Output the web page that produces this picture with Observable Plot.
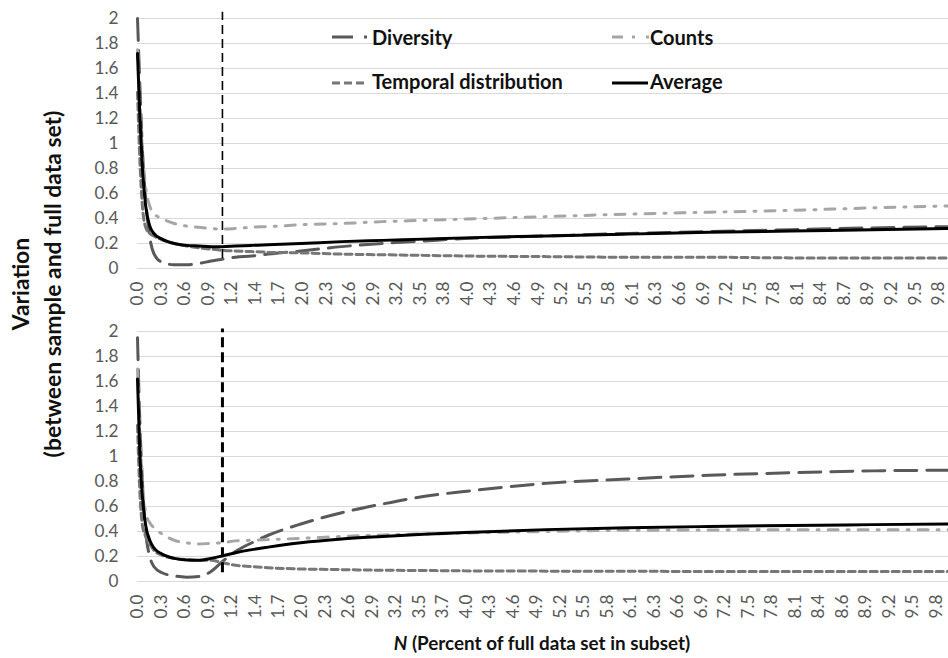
<!DOCTYPE html>
<html><head><meta charset="utf-8">
<script src="https://cdn.jsdelivr.net/npm/d3@7"></script>
<script src="https://cdn.jsdelivr.net/npm/@observablehq/plot@0.6"></script>
<style>
body{margin:0;background:#fff;}
#wrap{position:relative;width:948px;height:658px;overflow:hidden;font-family:Lato,sans-serif;background:#fff;}
#wrap svg.plot{display:block;}
#ytitle{position:absolute;font-weight:bold;color:#111;text-align:center;white-space:nowrap;line-height:32px;transform-origin:center center;}
#xtitle{position:absolute;font-weight:bold;color:#111;white-space:nowrap;}
#legend{position:absolute;left:0;top:0;}
</style></head><body><div id="wrap"></div>
<script>
// ---- data ----
const xPercent = [0,0.03,0.06,0.1,0.15,0.2,0.3,0.45,0.6,0.75,0.9,1.04,1.2,1.4,1.6,2.0,2.5,3.0,3.5,4.0,5.0,6.0,7.0,8.0,9.0,9.93];

const topDiversity = [2.0,1.45,0.95,0.55,0.25,0.12,0.05,0.03,0.03,0.04,0.06,0.075,0.09,0.10,0.115,0.14,0.175,0.2,0.22,0.24,0.26,0.28,0.295,0.31,0.325,0.335];
const topCounts    = [1.75,1.3,0.95,0.65,0.5,0.44,0.40,0.36,0.34,0.33,0.32,0.315,0.32,0.33,0.335,0.35,0.36,0.375,0.385,0.395,0.415,0.435,0.45,0.465,0.485,0.50];
const topTemporal  = [1.41,0.85,0.5,0.33,0.28,0.26,0.23,0.2,0.18,0.165,0.155,0.145,0.14,0.135,0.13,0.125,0.115,0.11,0.105,0.10,0.095,0.09,0.09,0.085,0.085,0.085];
const topAverage   = [1.72,1.2,0.8,0.5,0.34,0.28,0.235,0.2,0.185,0.18,0.175,0.175,0.18,0.185,0.19,0.2,0.215,0.225,0.235,0.245,0.26,0.275,0.29,0.30,0.31,0.32];

const bottomDiversity = [1.95,1.25,0.8,0.4,0.2,0.12,0.07,0.045,0.035,0.04,0.08,0.16,0.24,0.31,0.37,0.46,0.55,0.62,0.68,0.72,0.785,0.82,0.85,0.87,0.885,0.89];
const bottomCounts    = [1.7,1.15,0.8,0.55,0.47,0.43,0.38,0.33,0.31,0.30,0.305,0.31,0.325,0.33,0.335,0.345,0.36,0.372,0.38,0.388,0.40,0.41,0.412,0.415,0.415,0.415];
const bottomTemporal  = [1.25,0.7,0.45,0.36,0.3,0.25,0.21,0.185,0.175,0.17,0.17,0.15,0.13,0.12,0.11,0.10,0.095,0.09,0.088,0.085,0.083,0.082,0.08,0.08,0.08,0.08];
const bottomAverage   = [1.62,1.0,0.68,0.45,0.33,0.27,0.22,0.185,0.172,0.17,0.185,0.205,0.23,0.255,0.275,0.31,0.34,0.36,0.378,0.392,0.415,0.43,0.44,0.448,0.455,0.46];

const topTickLabels = ["0.0","0.3","0.6","0.9","1.2","1.4","1.7","2.0","2.3","2.6","2.9","3.2","3.5","3.8","4.0","4.3","4.6","4.9","5.2","5.5","5.8","6.1","6.3","6.6","6.9","7.2","7.5","7.8","8.1","8.4","8.7","8.9","9.2","9.5","9.8"];
const bottomTickLabels = ["0.0","0.3","0.6","0.9","1.2","1.4","1.7","2.0","2.3","2.6","2.9","3.2","3.5","3.7","4.0","4.3","4.6","4.9","5.2","5.5","5.8","6.1","6.3","6.6","6.9","7.2","7.5","7.8","8.1","8.4","8.6","8.9","9.2","9.5","9.8"];
const topTickStep = 0.2885, bottomTickStep = 0.2877; // percent between labelled categories
const yTicks = [0,0.2,0.4,0.6,0.8,1,1.2,1.4,1.6,1.8,2];
const xMax = 9.93;
const seriesNames = ["Diversity","Counts","Temporal distribution","Average"];
const markerX = 1.04;
const topMarker = {y1: 0.08, y2: 2.05};
const bottomMarker = {y1: 0.07, y2: 2.02};

// ---- styles ----
const seriesStyle = {
  "Diversity": {stroke:"#595959", dash:"22,10"},
  "Counts": {stroke:"#a6a6a6", dash:"10,9,2,9"},
  "Temporal distribution": {stroke:"#777777", dash:"7,4"},
  "Average": {stroke:"#000000", dash:null}
};

const ctx = document.createElement("canvas").getContext("2d");
function fitSize(text, target, weight) {
  ctx.font = `${weight} 100px Lato`;
  return 100 * target / ctx.measureText(text).width;
}
const tickFont = fitSize("1.8", 24, "normal");
const legendFont = fitSize("Temporal distribution", 191, "bold");
const yTitleFont = fitSize("(between sample and full data set)", 347, "bold");
const xTitleFont = fitSize("N (Percent of full data set in subset)", 298, "bold");

function panel({values, labels, step, height, marginTop, marginBottom, marker, markerWidth, markerDash}) {
  const rows = [];
  seriesNames.forEach((name, k) => xPercent.forEach((x, i) => rows.push({series: name, x, y: values[k][i]})));
  const tickVals = labels.map((_, i) => i * step);
  const tickMap = new Map(tickVals.map((v, i) => [v, labels[i]]));
  return Plot.plot({
    width: 948, height, marginLeft: 137, marginRight: 0, marginTop, marginBottom,
    x: {domain: [0, xMax]},
    y: {domain: [0, 2]},
    style: {fontFamily: "Lato, sans-serif", fontSize: tickFont + "px", color: "#595959", background: "transparent", overflow: "visible"},
    className: "plot",
    marks: [
      Plot.ruleY(yTicks, {stroke: "#d9d9d9", strokeWidth: 1}),
      Plot.axisY({ticks: yTicks, tickSize: 0, tickPadding: 19, label: null, tickFormat: d => String(+d.toFixed(1))}),
      Plot.axisX({ticks: tickVals, tickSize: 0, tickPadding: 13, tickRotate: -90, label: null, tickFormat: d => tickMap.get(d)}),
      ...seriesNames.map(name => Plot.line(rows.filter(r => r.series === name), {
        x: "x", y: "y", curve: "monotone-x",
        stroke: seriesStyle[name].stroke, strokeWidth: 3,
        strokeDasharray: seriesStyle[name].dash || undefined
      })),
      Plot.ruleX([markerX], {y1: marker.y1, y2: marker.y2, stroke: "#000", strokeWidth: markerWidth, strokeDasharray: markerDash})
    ]
  });
}

const wrap = document.getElementById("wrap");
wrap.appendChild(panel({
  values: [topDiversity, topCounts, topTemporal, topAverage], labels: topTickLabels, step: topTickStep,
  height: 320, marginTop: 18, marginBottom: 52, marker: topMarker, markerWidth: 1.6, markerDash: "9,5"
}));
wrap.appendChild(panel({
  values: [bottomDiversity, bottomCounts, bottomTemporal, bottomAverage], labels: bottomTickLabels, step: bottomTickStep,
  height: 338, marginTop: 11, marginBottom: 77, marker: bottomMarker, markerWidth: 3, markerDash: "10,5"
}));

// legend
const ns = "http://www.w3.org/2000/svg";
const leg = document.createElementNS(ns, "svg");
leg.setAttribute("id", "legend"); leg.setAttribute("width", 948); leg.setAttribute("height", 110);
const legendItems = [
  {name: seriesNames[0], x1: 332, x2: 369, y: 37, tx: 372, ty: 45, stroke: "#595959", dash: "21,11,3,20"},
  {name: seriesNames[1], x1: 612, x2: 649, y: 37, tx: 650, ty: 45, stroke: "#a6a6a6", dash: "11,9,3,11,3,20"},
  {name: seriesNames[2], x1: 332, x2: 364, y: 83, tx: 372, ty: 89, stroke: "#777777", dash: "8,4"},
  {name: seriesNames[3], x1: 612, x2: 648, y: 83, tx: 650, ty: 89, stroke: "#000000", dash: null}
];
legendItems.forEach(it => {
  const l = document.createElementNS(ns, "line");
  l.setAttribute("x1", it.x1); l.setAttribute("x2", it.x2); l.setAttribute("y1", it.y); l.setAttribute("y2", it.y);
  l.setAttribute("stroke", it.stroke); l.setAttribute("stroke-width", 3);
  if (it.dash) l.setAttribute("stroke-dasharray", it.dash);
  leg.appendChild(l);
  const t = document.createElementNS(ns, "text");
  t.setAttribute("x", it.tx); t.setAttribute("y", it.ty);
  t.setAttribute("font-family", "Lato, sans-serif"); t.setAttribute("font-weight", "bold");
  t.setAttribute("font-size", legendFont); t.setAttribute("fill", "#111");
  t.textContent = it.name;
  leg.appendChild(t);
});
wrap.appendChild(leg);

// y title
const yt = document.createElement("div");
yt.id = "ytitle";
yt.style.fontSize = yTitleFont + "px";
yt.innerHTML = "Variation<br>(between sample and full data set)";
wrap.appendChild(yt);
const w = 420, h = 64;
yt.style.width = w + "px"; yt.style.height = h + "px";
yt.style.left = (36 - w / 2) + "px"; yt.style.top = (284 - h / 2) + "px";
yt.style.transform = "rotate(-90deg)";

// x title
const xt = document.createElement("div");
xt.id = "xtitle";
xt.style.fontSize = xTitleFont + "px";
xt.innerHTML = "<i>N</i> (Percent of full data set in subset)";
wrap.appendChild(xt);
const xw = xt.getBoundingClientRect().width, xh = xt.getBoundingClientRect().height;
xt.style.left = (542 - xw / 2) + "px"; xt.style.top = (642 - xh / 2) + "px";
</script></body></html>
